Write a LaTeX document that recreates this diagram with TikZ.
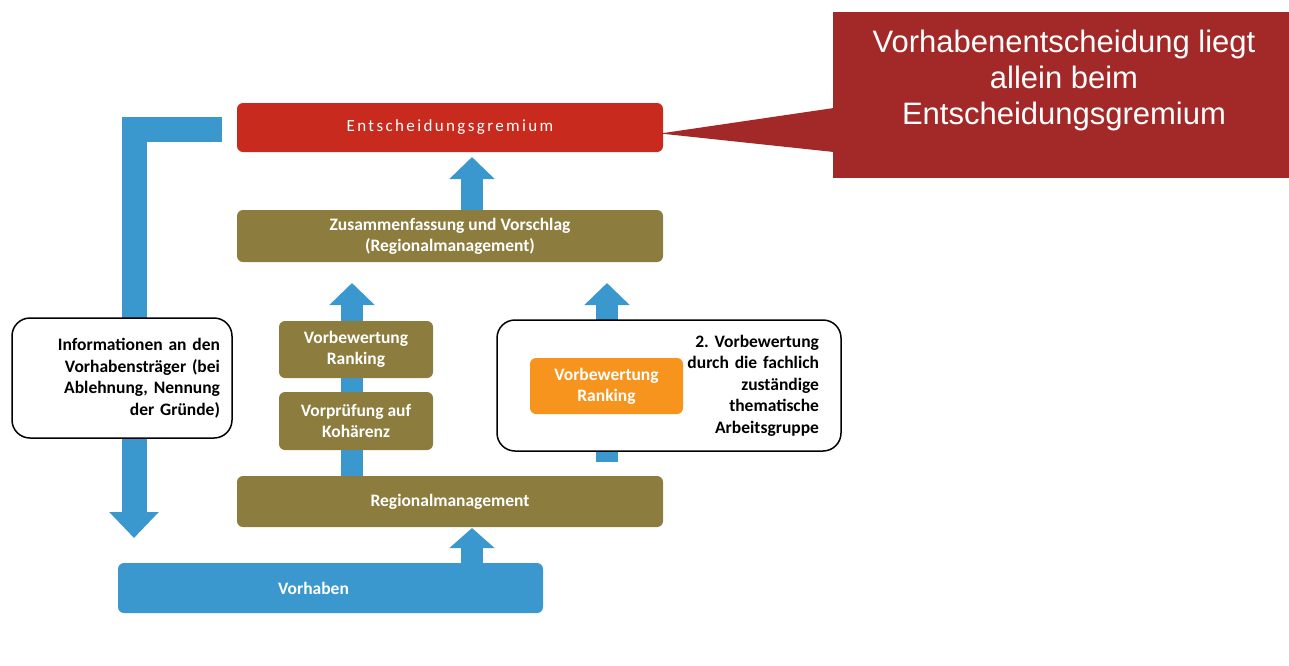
\documentclass[tikz,border=0pt]{standalone}
\usepackage{fontspec}
\setmainfont{Carlito}
\newfontfamily\arialfont{Liberation Sans}
\usetikzlibrary{arrows.meta,backgrounds,calc}
\definecolor{cblue}{RGB}{58,152,206}
\definecolor{colive}{RGB}{140,125,62}
\definecolor{cred}{RGB}{200,42,30}
\definecolor{cdred}{RGB}{163,40,40}
\definecolor{corange}{RGB}{247,148,30}
\frenchspacing
\begin{document}
\begin{tikzpicture}[x=1pt,y=-1pt,
  obox/.style={fill=colive, rounded corners=6pt, inner sep=0pt, align=center,
    text=white, font=\fontsize{17.5}{21}\selectfont\bfseries},
  wbox/.style={draw=black, line width=1.5pt, fill=white, rounded corners=18pt,
    inner xsep=12pt, align=right, font=\fontsize{17.5}{21.5}\selectfont\bfseries},
  fatarrow/.style={draw=cblue, line width=22pt,
    -{Triangle[width=44pt,length=22pt]}},
]
\useasboundingbox (0,0) rectangle (1289,665);

% boxes
\node[obox, fill=cred, minimum width=426pt, minimum height=49pt,
  font=\fontsize{17}{18}\selectfont\addfontfeature{LetterSpace=14}] (grem) at (450,127.5) {Entscheidungsgremium};
\node[obox, minimum width=426pt, minimum height=52pt] (zus) at (450,236)
  {Zusammenfassung und Vorschlag\\(Regionalmanagement)};
\node[obox, minimum width=154pt, minimum height=57pt] (vbr) at (356,349.5)
  {Vorbewertung\\Ranking};
\node[obox, minimum width=154pt, minimum height=58pt] (vpk) at (356,421)
  {Vorprüfung auf\\Kohärenz};
\node[obox, minimum width=426pt, minimum height=51pt] (rm) at (450,501.5)
  {Regionalmanagement};
\node[obox, fill=cblue, minimum width=425pt, minimum height=50pt] (vorh) at (330.5,588)
  {\hspace*{-34pt}Vorhaben};
\node[wbox, text width=196pt, minimum width=220pt, minimum height=120pt] (info) at (122,378)
  {Informationen an den\\Vorhabensträger (bei\\Ablehnung, Nennung\\der Gründe)};
\node[wbox, text width=300pt, minimum width=344pt, minimum height=131pt, inner xsep=22pt] (ag) at (669,385.5)
  {2. Vorbewertung\\durch die fachlich\\zuständige\\thematische\\Arbeitsgruppe};

% arrows behind
\begin{scope}[on background layer]
  \coordinate (lstart) at ($(grem.west)+(-15,2)$);
  \coordinate (lcorner) at (134,129.5);
  \coordinate (lend) at (134,538);
  \draw[fatarrow, line width=25pt, line join=miter, -{Triangle[width=48pt,length=26pt]}]
    (lstart) -- (lcorner) -- (lend);
  \coordinate (a1s) at (472,210);
  \coordinate (a1e) at (472,157);
  \draw[fatarrow] (a1s) -- (a1e);
  \coordinate (a2s) at (352,476);
  \coordinate (a2e) at (352,283);
  \draw[fatarrow] (a2s) -- (a2e);
  \coordinate (a3s) at (607,462);
  \coordinate (a3e) at (607,283);
  \draw[fatarrow] (a3s) -- (a3e);
  \coordinate (a4s) at (472,566);
  \coordinate (a4e) at (472,528);
  \draw[fatarrow, -{Triangle[width=44pt,length=20pt]}] (a4s) -- (a4e);
\end{scope}

% orange box on the right arrow
\node[obox, fill=corange, minimum width=153pt, minimum height=56pt] (orng) at (606.5,386)
  {Vorbewertung\\Ranking};

% callout
\node[fill=cdred, minimum width=456pt, minimum height=166pt, inner sep=0pt] (callout) at (1061,95) {};
\fill[cdred] ($(callout.west)+(1,13)$) -- ($(grem.east)+(-3,6)$) -- ($(callout.west)+(1,57)$) -- cycle;
\node[text=white, align=center, font=\arialfont\fontsize{31}{36}\selectfont] (calltxt) at (1064,80)
  {Vorhabenentscheidung liegt\\allein beim\\Entscheidungsgremium};
\end{tikzpicture}
\end{document}
